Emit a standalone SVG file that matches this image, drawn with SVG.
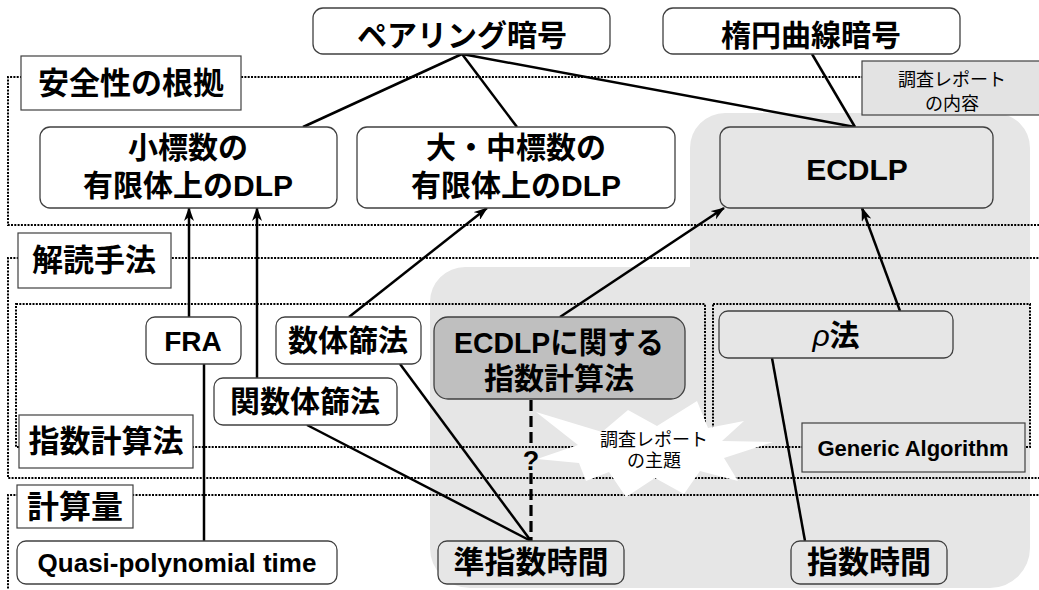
<svg xmlns="http://www.w3.org/2000/svg" width="1039" height="590" viewBox="0 0 1039 590">
<style>
.jp{font-family:"Liberation Sans","Noto Sans CJK JP",sans-serif;font-weight:bold;fill:#000;text-anchor:middle}
.lt{font-family:"Liberation Sans","Noto Sans CJK JP",sans-serif;font-weight:normal;fill:#000;text-anchor:middle}
.node{stroke:#404040;stroke-width:1.3}
.lbl{fill:#fff;stroke:#404040;stroke-width:1.2}
.dot{fill:none;stroke:#000;stroke-width:2;stroke-dasharray:2 1.3}
.ln{fill:none;stroke:#000;stroke-width:2.5}
.dash{fill:none;stroke:#000;stroke-width:3.2;stroke-dasharray:11 5}
</style>
<defs>
<marker id="arr" viewBox="0 0 14 10" refX="13" refY="5" markerWidth="14" markerHeight="10" markerUnits="userSpaceOnUse" orient="auto">
<path d="M0,0 L14,5 L0,10 L4,5 Z" fill="#000"/>
</marker>
</defs>
<rect width="1039" height="590" fill="#fff"/>
<g id="report-region">
<path d="M690,148 A35,35 0 0 1 725,113 L995,113 A35,35 0 0 1 1030,148 L1030,548 A40,40 0 0 1 990,588 L470,588 A40,40 0 0 1 430,548 L430,302 A35,35 0 0 1 465,267 L690,267 Z" fill="#e6e6e6"/>
</g>
<g id="sections">
<path class="dot" d="M1045,77 H8 V225 H1045"/>
<path class="dot" d="M1045,258 H8 V478 H1045"/>
<rect class="dot" x="16" y="304" width="689" height="143"/>
<rect class="dot" x="713" y="304" width="317" height="143"/>
<path class="dot" d="M1045,495 H8 V595"/>
</g>
<g id="starburst">
<polygon points="536,412 602,432 628,410 657,426 697,401 708,428 744,421 722,441 773,442 724,458 738,481 700,471 684,494 655,478 626,497 609,472 586,481 579,463 537,459 578,445" fill="#fff"/>
<text class="lt" x="654" y="446" font-size="18">調査レポート</text>
<text class="lt" x="654" y="467" font-size="18">の主題</text>
</g>
<g id="connectors">
<path class="ln" d="M462,54 L303,127"/>
<path class="ln" d="M462,54 L517,127"/>
<path class="ln" d="M462,54 L855,127"/>
<path class="ln" d="M812,54 L855,127"/>
<path class="ln" d="M189,317 L189,208" marker-end="url(#arr)"/>
<path class="ln" d="M257,378 L257,208" marker-end="url(#arr)"/>
<path class="ln" d="M349,317 L487,208" marker-end="url(#arr)"/>
<path class="ln" d="M560,317 L724,208" marker-end="url(#arr)"/>
<path class="ln" d="M900,311 L862,208" marker-end="url(#arr)"/>
<path class="ln" d="M204,364 L204,541"/>
<path class="ln" d="M772,358 L805,541"/>
<path class="ln" d="M400,364 L531,541"/>
<path class="ln" d="M307,425 L531,541"/>
<path class="dash" d="M531,400 L531,446"/>
<path class="dash" d="M531,473 L531,541"/>
<text class="jp" x="531" y="470" font-size="27">?</text>
</g>
<g id="pairing">
<rect class="node" x="313" y="8" width="297" height="46" rx="10" fill="#fff"/>
<text class="jp" x="462" y="46" font-size="30">ペアリング暗号</text>
</g>
<g id="ec-crypto">
<rect class="node" x="663" y="8" width="297" height="46" rx="10" fill="#fff"/>
<text class="jp" x="811" y="46" font-size="30">楕円曲線暗号</text>
</g>
<g id="report-content">
<rect x="862" y="61" width="185" height="54" fill="#e3e3e3" stroke="#404040" stroke-width="1.2"/>
<text class="lt" x="952" y="86" font-size="18">調査レポート</text>
<text class="lt" x="952" y="110" font-size="18">の内容</text>
</g>
<g id="label-security">
<rect class="lbl" x="21" y="56" width="220" height="54"/>
<text class="jp" x="131" y="94" font-size="31">安全性の根拠</text>
</g>
<g id="small-char">
<rect class="node" x="40" y="127" width="297" height="81" rx="10" fill="#fff"/>
<text class="jp" x="188" y="158" font-size="30">小標数の</text>
<text class="jp" x="188" y="196" font-size="30">有限体上のDLP</text>
</g>
<g id="large-char">
<rect class="node" x="357" y="127" width="318" height="81" rx="10" fill="#fff"/>
<text class="jp" x="516" y="158" font-size="30">大・中標数の</text>
<text class="jp" x="516" y="196" font-size="30">有限体上のDLP</text>
</g>
<g id="ecdlp">
<rect class="node" x="720" y="127" width="273" height="81" rx="10" fill="#e6e6e6"/>
<text class="jp" x="857" y="180" font-size="30">ECDLP</text>
</g>
<g id="label-methods">
<rect class="lbl" x="18" y="233" width="153" height="55"/>
<text class="jp" x="94" y="271" font-size="31">解読手法</text>
</g>
<g id="fra">
<rect class="node" x="146" y="317" width="95" height="47" rx="9" fill="#fff"/>
<text class="jp" x="193" y="351" font-size="28">FRA</text>
</g>
<g id="nfs">
<rect class="node" x="276" y="317" width="145" height="47" rx="9" fill="#fff"/>
<text class="jp" x="348" y="351" font-size="30">数体篩法</text>
</g>
<g id="ffs">
<rect class="node" x="214" y="378" width="183" height="47" rx="9" fill="#fff"/>
<text class="jp" x="305" y="412" font-size="30">関数体篩法</text>
</g>
<g id="ec-index">
<rect class="node" x="434" y="317" width="251" height="82" rx="14" fill="#bfbfbf"/>
<text class="jp" x="559" y="353" font-size="30" textLength="210" lengthAdjust="spacingAndGlyphs">ECDLPに関する</text>
<text class="jp" x="559" y="389" font-size="30">指数計算法</text>
</g>
<g id="rho">
<rect class="node" x="719" y="311" width="234" height="47" rx="9" fill="#e6e6e6"/>
<text class="jp" x="836" y="346" font-size="30"><tspan font-style="italic" font-weight="normal">ρ</tspan>法</text>
</g>
<g id="generic">
<rect x="802" y="423" width="223" height="49" fill="#e6e6e6" stroke="#404040" stroke-width="1.2"/>
<text class="jp" x="913" y="456" font-size="22">Generic Algorithm</text>
</g>
<g id="label-index">
<rect class="lbl" x="19" y="415" width="174" height="53"/>
<text class="jp" x="106" y="452" font-size="31">指数計算法</text>
</g>
<g id="label-complexity">
<rect class="lbl" x="17" y="485" width="116" height="43"/>
<text class="jp" x="75" y="518" font-size="32">計算量</text>
</g>
<g id="quasi">
<rect class="node" x="17" y="541" width="320" height="43" rx="9" fill="#fff"/>
<text class="jp" x="177" y="572" font-size="26">Quasi-polynomial time</text>
</g>
<g id="subexp">
<rect class="node" x="438" y="541" width="186" height="43" rx="9" fill="#e6e6e6"/>
<text class="jp" x="531" y="573" font-size="31">準指数時間</text>
</g>
<g id="exp">
<rect class="node" x="791" y="541" width="156" height="43" rx="9" fill="#e6e6e6"/>
<text class="jp" x="869" y="573" font-size="31">指数時間</text>
</g>
</svg>
